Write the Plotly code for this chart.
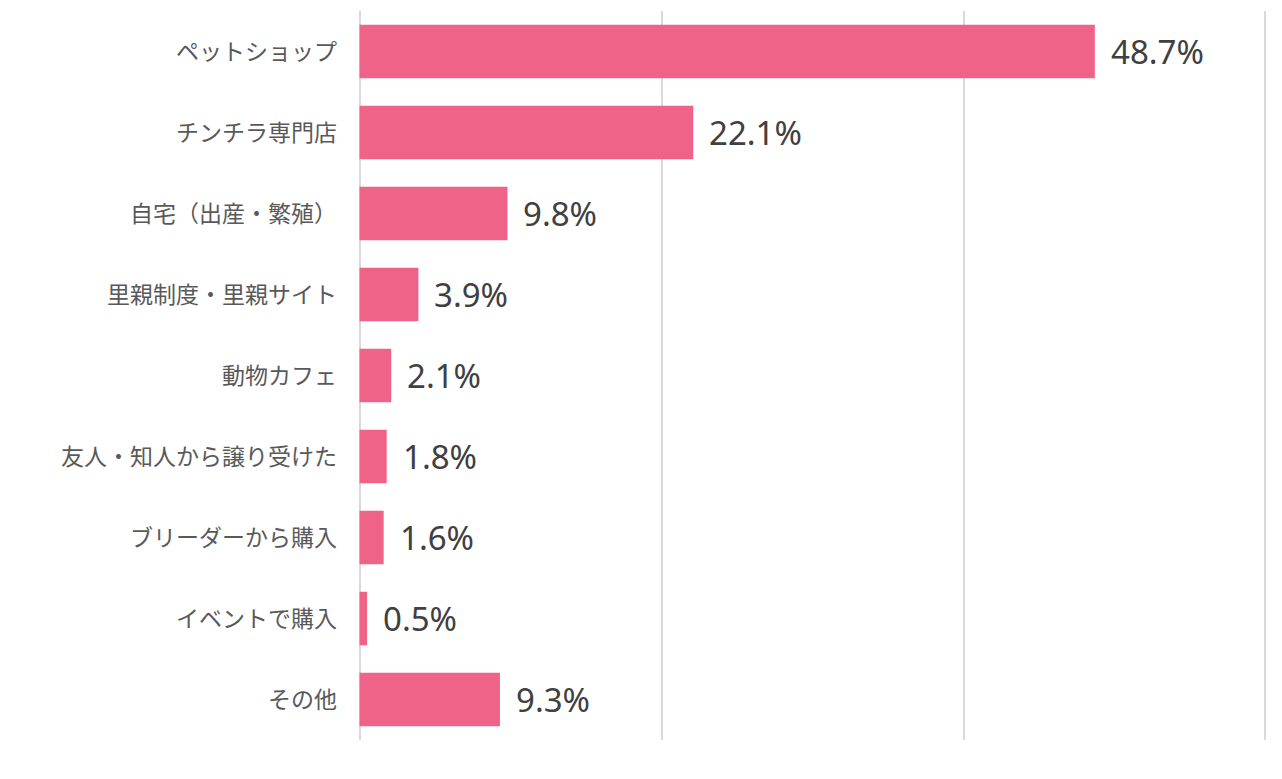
import plotly.graph_objects as go

categories = ['ペットショップ', 'チンチラ専門店', '自宅（出産・繁殖）', '里親制度・里親サイト',
              '動物カフェ', '友人・知人から譲り受けた', 'ブリーダーから購入', 'イベントで購入', 'その他']
values = [48.7, 22.1, 9.8, 3.9, 2.1, 1.8, 1.6, 0.5, 9.3]
x_ticks = [0, 20, 40, 60]

fig = go.Figure()
fig.add_bar(
    x=values, y=categories, orientation='h',
    marker=dict(color='#F06389', line=dict(width=0)),
    width=0.66,
    hoverinfo='skip',
)

# value labels to the right of each bar
for c, v in zip(categories, values):
    fig.add_annotation(
        x=v, y=c, text=f'{v:.1f}%', showarrow=False,
        xanchor='left', xshift=14,
        font=dict(family='Noto Sans, sans-serif', size=33, color='#404040'),
    )

fig.update_layout(
    width=1282, height=779,
    margin=dict(l=350, r=23, t=3, b=47),
    plot_bgcolor='white', paper_bgcolor='white',
    showlegend=False,
    bargap=0.34,
    font=dict(family='Noto Sans CJK JP, sans-serif', color='#595959'),
)
fig.update_xaxes(
    range=[-0.1, 60.1], tickvals=x_ticks, showticklabels=False,
    showgrid=True, gridcolor='#D9D9D9', gridwidth=2,
    zeroline=False, showline=False,
)
fig.update_yaxes(
    autorange='reversed', showgrid=False, zeroline=False, showline=False,
    tickfont=dict(size=23, color='#595959'), ticks='', ticklabelstandoff=20,
)

fig.write_html('out.html')
